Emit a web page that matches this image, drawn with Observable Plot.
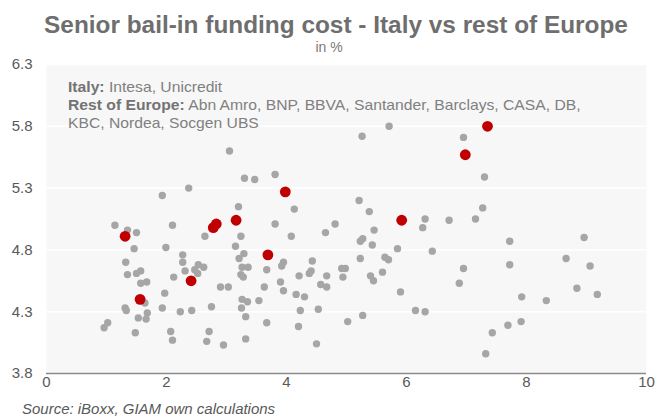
<!DOCTYPE html>
<html>
<head>
<meta charset="utf-8">
<script src="https://cdn.jsdelivr.net/npm/d3@7"></script>
<script src="https://cdn.jsdelivr.net/npm/@observablehq/plot@0.6"></script>
<style>
  body { margin: 0; background: #fff; font-family: "Liberation Sans", Arial, sans-serif; }
  #wrap { position: relative; width: 658px; height: 418px; overflow: hidden; background: #fff; }
  #title { position: absolute; top: 12px; left: 7px; width: 658px; text-align: center;
           font-weight: bold; font-size: 23px; color: #6e6e6e; white-space: nowrap;
           transform: scaleX(1.06); transform-origin: 329px 0; }
  #subtitle { position: absolute; top: 39px; left: 0; width: 658px; text-align: center;
              font-size: 14px; color: #7a7a7a; }
  #chart { position: absolute; top: 56px; left: 0; }
  #note { position: absolute; top: 78px; left: 68px; font-size: 15px; line-height: 18px;
          color: #808080; white-space: nowrap; transform: scaleX(1.045); transform-origin: left top; }
  #note b { color: #737373; }
  #source { position: absolute; top: 401px; left: 22px; font-size: 14px; font-style: italic;
            color: #595959; white-space: nowrap; transform: scaleX(1.07); transform-origin: left top; }
</style>
</head>
<body>
<div id="wrap">
  <div id="title">Senior bail-in funding cost - Italy vs rest of Europe</div>
  <div id="subtitle">in %</div>
  <div id="chart"></div>
  <div id="note">
    <div><b>Italy:</b> Intesa, Unicredit</div>
    <div><b>Rest of Europe:</b> Abn Amro, BNP, BBVA, Santander, Barclays, CASA, DB,</div>
    <div>KBC, Nordea, Socgen UBS</div>
  </div>
  <div id="source">Source: iBoxx, GIAM own calculations</div>
</div>
<script>
// Rest of Europe issuers: x and y of each bond
const restX = [
  3.05, 2.37, 1.93, 3.20, 1.14, 1.35, 1.50, 2.10, 2.64, 3.24,
  1.46, 1.99, 3.15, 1.32, 2.27, 2.27, 3.21, 1.35, 1.50, 1.57,
  2.31, 2.53, 2.62, 2.47, 2.52, 2.12, 3.24, 1.57, 1.67, 2.90,
  3.03, 1.97, 1.64, 1.31, 1.33, 1.68, 1.53, 1.66, 1.93, 2.23,
  2.42, 2.75, 3.26, 3.25, 1.02, 0.96, 1.48, 2.07, 2.10, 2.71,
  2.67, 2.95, 5.71, 5.26, 3.30, 3.47, 3.81, 4.13, 5.21, 5.38,
  3.81, 4.08, 4.65, 4.81, 5.46, 5.23, 5.27, 5.43, 3.29, 3.26,
  3.36, 3.28, 3.67, 3.92, 3.95, 4.43, 4.21, 4.38, 4.41, 4.67,
  4.57, 4.67, 4.92, 4.98, 4.94, 5.23, 5.64, 5.70, 5.60, 5.40,
  5.45, 3.90, 3.63, 3.95, 4.16, 4.30, 3.54, 3.35, 3.32, 3.67,
  4.23, 4.53, 4.20, 5.02, 5.27, 3.32, 4.50, 6.95, 7.30, 7.27,
  7.15, 6.31, 6.27, 6.71, 7.72, 5.85, 6.43, 7.72, 6.95, 6.88,
  5.90, 6.15, 6.31, 7.92, 7.91, 7.69, 7.43, 7.32, 8.96, 8.66,
  9.06, 8.84, 9.18, 8.33
];
const restY = [
  5.60, 5.30, 5.24, 5.15, 5.00, 4.96, 4.94, 5.00, 4.91, 4.91,
  4.81, 4.82, 4.83, 4.70, 4.76, 4.70, 4.73, 4.60, 4.61, 4.63,
  4.63, 4.68, 4.66, 4.64, 4.61, 4.58, 4.60, 4.53, 4.54, 4.50,
  4.50, 4.45, 4.37, 4.33, 4.31, 4.29, 4.25, 4.24, 4.33, 4.30,
  4.31, 4.34, 4.40, 4.33, 4.21, 4.17, 4.13, 4.14, 4.07, 4.14,
  4.06, 4.03, 5.80, 5.72, 5.38, 5.37, 5.41, 5.13, 5.20, 5.11,
  5.01, 4.91, 4.94, 5.01, 4.96, 4.87, 4.89, 4.84, 4.77, 4.66,
  4.66, 4.58, 4.64, 4.67, 4.70, 4.71, 4.59, 4.61, 4.63, 4.59,
  4.52, 4.50, 4.65, 4.65, 4.58, 4.73, 4.74, 4.72, 4.62, 4.59,
  4.55, 4.54, 4.50, 4.47, 4.44, 4.42, 4.39, 4.38, 4.26, 4.21,
  4.31, 4.32, 4.18, 4.22, 4.27, 4.08, 4.04, 5.71, 5.39, 5.14,
  5.05, 5.05, 4.98, 5.04, 4.87, 4.81, 4.79, 4.68, 4.65, 4.53,
  4.46, 4.31, 4.30, 4.42, 4.22, 4.19, 4.13, 3.96, 4.90, 4.73,
  4.67, 4.49, 4.44, 4.39
];

// Italian issuers (Intesa, Unicredit)
const italyX = [1.31, 2.78, 2.83, 3.16, 2.41, 1.56, 3.98, 3.69, 7.35, 6.98, 5.92];
const italyY = [4.91, 4.98, 5.01, 5.04, 4.55, 4.40, 5.27, 4.76, 5.80, 5.57, 5.04];

const xTicks = [0, 2, 4, 6, 8, 10];
const yTicks = [3.8, 4.3, 4.8, 5.3, 5.8, 6.3];

const rest = restX.map((x, i) => ({x, y: restY[i]}));
const italy = italyX.map((x, i) => ({x, y: italyY[i]}));

const chart = Plot.plot({
  width: 658,
  height: 342,
  marginTop: 8,
  marginBottom: 25,
  marginLeft: 46,
  marginRight: 12,
  style: {fontSize: "15px", fontFamily: "'Liberation Sans', Arial, sans-serif", color: "#595959", background: "transparent"},
  x: {domain: [0, 10]},
  y: {domain: [3.8, 6.3]},
  marks: [
    Plot.frame({fill: "#f7f7f7", stroke: null}),
    Plot.gridY(yTicks, {stroke: "#ffffff", strokeOpacity: 1, strokeWidth: 1.5}),
    Plot.ruleY([3.8], {stroke: "#8a8a8a", strokeWidth: 1.5}),
    Plot.axisY({ticks: yTicks, tickSize: 0, tickPadding: 14, tickFormat: d => d.toFixed(1), label: null}),
    Plot.axisX({ticks: xTicks, tickSize: 0, tickPadding: 3, tickFormat: d => String(d), label: null}),
    Plot.dot(rest, {x: "x", y: "y", r: 3.7, fill: "#a6a6a6", stroke: null}),
    Plot.dot(italy, {x: "x", y: "y", r: 5.4, fill: "#c00000", stroke: null})
  ]
});
document.getElementById("chart").appendChild(chart);
</script>
</body>
</html>
